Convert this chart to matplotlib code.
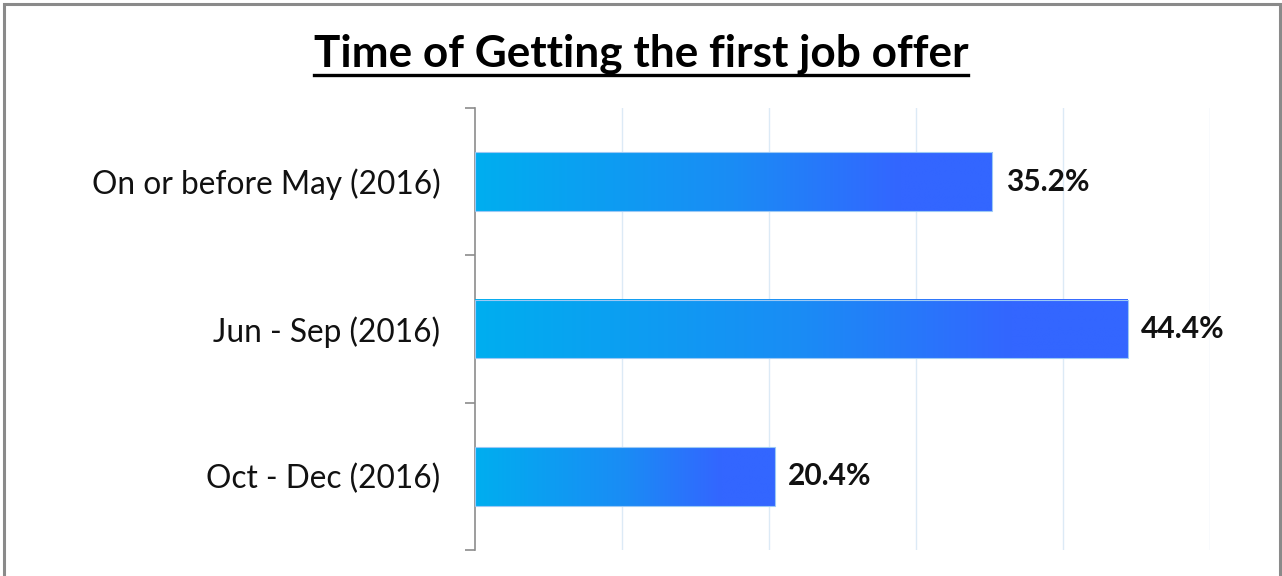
import matplotlib
matplotlib.use("Agg")
import matplotlib.pyplot as plt
import numpy as np
from matplotlib.colors import LinearSegmentedColormap
from matplotlib.patches import Rectangle

categories = ["On or before May (2016)", "Jun - Sep (2016)", "Oct - Dec (2016)"]
values = [35.2, 44.4, 20.4]
labels = ["35.2%", "44.4%", "20.4%"]
title = "Time of Getting the first job offer"

plt.rcParams['font.family'] = ['Lato', 'DejaVu Sans']

W, H = 1282, 576
fig = plt.figure(figsize=(W / 100, H / 100), dpi=100)
fig.patch.set_facecolor('white')

ax = fig.add_axes([475 / W, 1 - 550 / H, (1210 - 475) / W, (550 - 108) / H])
ax.set_xlim(0, 50)
ax.set_ylim(2.5, -0.5)

cmap = LinearSegmentedColormap.from_list(
    "g", [(0.0, "#00AEEF"), (0.5, "#1A8CF5"), (0.82, "#3366FF"), (1.0, "#3366FF")])
grad = np.linspace(0, 1, 256).reshape(1, -1)
bh = 0.4
for i, v in enumerate(values):
    ax.imshow(grad, cmap=cmap, aspect='auto', interpolation='bilinear',
              extent=[0, v, i + bh / 2, i - bh / 2], zorder=3)
    ax.add_patch(Rectangle((0, i - bh / 2), v, bh, fill=False,
                           edgecolor='#9CC9F5', linewidth=0.8, zorder=4))
    ax.text(v + 0.9, i, labels[i], va='center', ha='left', fontsize=21.5,
            fontweight='bold', color='#111111', zorder=5)
ax.set_xlim(0, 50)
ax.set_ylim(2.5, -0.5)

ax.set_xticks([10, 20, 30, 40, 50])
ax.xaxis.grid(True, color='#DCEAF6', linewidth=1.0)
ax.set_axisbelow(True)
ax.tick_params(axis='x', length=0, labelbottom=False)

ax.set_yticks([0, 1, 2])
ax.set_yticklabels(categories, fontsize=22.8, color='#111111')
ax.set_yticks([-0.5, 0.5, 1.5, 2.5], minor=True)
ax.tick_params(axis='y', which='major', length=0, pad=25)
ax.tick_params(axis='y', which='minor', length=7, color='#8C8C8C', width=1.2)

for s in ['top', 'right', 'bottom']:
    ax.spines[s].set_visible(False)
ax.spines['left'].set_color('#8C8C8C')
ax.spines['left'].set_linewidth(1.2)

t = fig.text(641 / W, 1 - 54 / H, title, ha='center', va='center',
             fontsize=31.8, fontweight='bold', color='black')
fig.canvas.draw()
bb = t.get_window_extent()
fig.add_artist(plt.Line2D([bb.x0 / W, bb.x1 / W], [1 - 75 / H, 1 - 75 / H],
                          color='black', linewidth=2.4))

fig.add_artist(Rectangle((3.5 / W, -0.05), (1279.5 - 3.5) / W, 1.05 - 4 / H,
                         fill=False, edgecolor='#8A8A8A', linewidth=2.2,
                         transform=fig.transFigure))

fig.savefig("out.png", dpi=100, facecolor='white')
